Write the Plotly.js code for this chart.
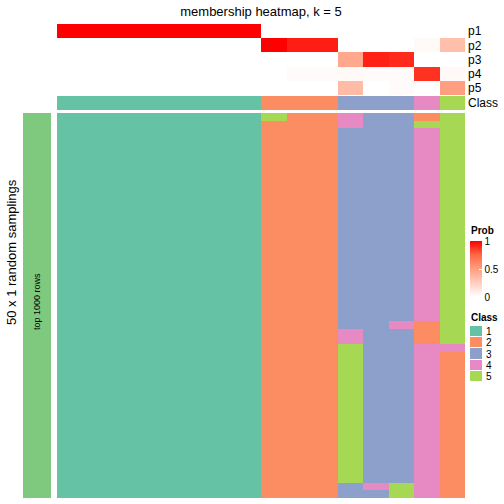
<!DOCTYPE html>
<html>
<head>
<meta charset="utf-8">
<script src="https://cdn.plot.ly/plotly-3.0.1.min.js"></script>
<style>html,body{margin:0;padding:0;background:#fff;}#chart{width:504px;height:504px;}</style>
</head>
<body>
<div id="chart"></div>
<script>
// ---- data ----
const columns = ['s1','s2','s3','s4','s5','s6','s7','s8','s9','s10','s11','s12','s13','s14','s15','s16'];
const probRows = ['p1','p2','p3','p4','p5'];
const p1 = [1,1,1,1,1,1,1,1, 0,0,0, 0,0,0, 0,0];
const p2 = [0,0,0,0,0,0,0,0, 1,0.93,0.93, 0,0,0, 0.03,0.33];
const p3 = [0,0,0,0,0,0,0,0, 0,0,0, 0.45,0.92,0.9, 0,0];
const p4 = [0,0,0,0,0,0,0,0, 0,0.02,0.02, 0.03,0.02,0.02, 0.88,0.03];
const p5 = [0,0,0,0,0,0,0,0, 0,0,0, 0.35,0,0.02, 0,0.5];
const classTop = [1,1,1,1,1,1,1,1, 2,2,2, 3,3,3, 4,5];
const classLabels = ['1','2','3','4','5'];
const classColors = ['#66C2A5','#FC8D62','#8DA0CB','#E78AC3','#A6D854'];
// class of each of the 50 random samplings (top to bottom) for every column
const samplingCols = [
  '1111111111 1111111111 1111111111 1111111111 1111111111',
  '1111111111 1111111111 1111111111 1111111111 1111111111',
  '1111111111 1111111111 1111111111 1111111111 1111111111',
  '1111111111 1111111111 1111111111 1111111111 1111111111',
  '1111111111 1111111111 1111111111 1111111111 1111111111',
  '1111111111 1111111111 1111111111 1111111111 1111111111',
  '1111111111 1111111111 1111111111 1111111111 1111111111',
  '1111111111 1111111111 1111111111 1111111111 1111111111',
  '5222222222 2222222222 2222222222 2222222222 2222222222',
  '2222222222 2222222222 2222222222 2222222222 2222222222',
  '2222222222 2222222222 2222222222 2222222222 2222222222',
  '4433333333 3333333333 3333333344 5555555555 5555555533',
  '3333333333 3333333333 3333333333 3333333333 3333333343',
  '3333333333 3333333333 3333333433 3333333333 3333333355',
  '2544444444 4444444444 4444444222 4444444444 4444444444',
  '5555555555 5555555555 5555555555 4222222222 2222222222'
];
// ---- build ----
const colsParsed = samplingCols.map(s => s.replace(/ /g,'').split('').map(Number));
const nRows = colsParsed[0].length;
const mainZ = [];
for (let r = 0; r < nRows; r++) mainZ.push(colsParsed.map(c => c[r]));
const xIdx = columns.map((_, i) => i);

const discreteScale = [];
classColors.forEach((c, i) => { discreteScale.push([i/5, c]); discreteScale.push([(i+1)/5, c]); });
const redScale = [[0,'#FFFFFF'],[0.25,'#FFCFBF'],[0.5,'#FF9E81'],[0.75,'#FF6846'],[1,'#FF0000']];

const P = v => v/504;          // x pixel -> paper
const Q = v => 1 - v/504;      // y pixel -> paper

const traces = [
  { type:'heatmap', z:[p1,p2,p3,p4,p5], x:xIdx, y:[0,1,2,3,4], xaxis:'x', yaxis:'y',
    colorscale:redScale, zmin:0, zmax:1, hoverinfo:'skip',
    colorbar:{ x:P(470), xanchor:'left', y:Q(241), yanchor:'top', len:56, lenmode:'pixels',
      thickness:12, thicknessmode:'pixels', outlinewidth:0, xpad:0, ypad:0,
      tickvals:[0,0.5,1], ticktext:['0','0.5','1'], ticks:'inside', ticklen:3, tickcolor:'#FFFFFF',
      tickfont:{size:10, color:'#000'} } },
  { type:'heatmap', z:[classTop], x:xIdx, y:[0], xaxis:'x', yaxis:'y2',
    colorscale:discreteScale, zmin:0.5, zmax:5.5, showscale:false, hoverinfo:'skip' },
  { type:'heatmap', z:mainZ, x:xIdx, xaxis:'x', yaxis:'y3',
    colorscale:discreteScale, zmin:0.5, zmax:5.5, showscale:false, hoverinfo:'skip' },
  { type:'heatmap', z:[[1]], x:[0], y:[0], xaxis:'x2', yaxis:'y5',
    colorscale:[[0,'#7FC97F'],[1,'#7FC97F']], showscale:false, hoverinfo:'skip' },
  { type:'heatmap', z:[[1],[2],[3],[4],[5]], x:[0], y:[0,1,2,3,4], xaxis:'x3', yaxis:'y4',
    colorscale:discreteScale, zmin:0.5, zmax:5.5, showscale:false, ygap:1, hoverinfo:'skip' }
];

const hid = { visible:false, showgrid:false, zeroline:false, fixedrange:true };
const layout = {
  width:504, height:504, margin:{l:0,r:0,t:0,b:0},
  paper_bgcolor:'#FFFFFF', plot_bgcolor:'#FFFFFF', showlegend:false,
  font:{family:'Liberation Sans, Arial, sans-serif', size:12, color:'#000'},
  title:{ text:'membership heatmap, k = 5', x:P(261), xanchor:'center', y:Q(11), yanchor:'middle',
    font:{size:13, color:'#000'} },
  xaxis:Object.assign({}, hid, { domain:[P(57), P(465)], range:[-0.5, 15.5], anchor:'y3' }),
  yaxis:{ domain:[Q(95), Q(24)], anchor:'x', side:'right', range:[4.5,-0.5], showgrid:false, zeroline:false,
    showline:false, ticks:'', tickvals:[0,1,2,3,4], ticktext:probRows, tickfont:{size:12}, fixedrange:true,
    ticklabelstandoff:2 },
  yaxis2:{ domain:[Q(110), Q(96)], anchor:'x', side:'right', range:[0.5,-0.5], showgrid:false, zeroline:false,
    showline:false, ticks:'', tickvals:[0], ticktext:['Class'], tickfont:{size:12}, fixedrange:true,
    ticklabelstandoff:2 },
  yaxis3:Object.assign({}, hid, { domain:[Q(498), Q(113)], anchor:'x', range:[nRows-0.5, -0.5] }),
  xaxis2:Object.assign({}, hid, { domain:[P(23), P(51)], range:[-0.5,0.5], anchor:'y5' }),
  yaxis5:Object.assign({}, hid, { domain:[Q(498), Q(113)], anchor:'x2', range:[-0.5,0.5] }),
  xaxis3:Object.assign({}, hid, { domain:[P(470), P(482)], range:[-0.5,0.5], anchor:'y4' }),
  yaxis4:{ domain:[Q(382), Q(326)], anchor:'x3', side:'right', range:[4.5,-0.5], showgrid:false, zeroline:false,
    showline:false, ticks:'', tickvals:[0,1,2,3,4], ticktext:classLabels, tickfont:{size:10}, fixedrange:true,
    ticklabelstandoff:3 },
  annotations:[
    { text:'<b>Prob</b>', xref:'paper', yref:'paper', x:P(469), y:Q(231), xanchor:'left', yanchor:'middle',
      showarrow:false, font:{size:10} },
    { text:'<b>Class</b>', xref:'paper', yref:'paper', x:P(469), y:Q(317), xanchor:'left', yanchor:'middle',
      showarrow:false, font:{size:10} },
    { text:'50 x 1 random samplings', xref:'paper', yref:'paper', x:P(11), y:Q(252), xanchor:'center', yanchor:'middle',
      textangle:-90, showarrow:false, font:{size:13} },
    { text:'top 1000 rows', xref:'paper', yref:'paper', x:P(37), y:Q(302), xanchor:'center', yanchor:'middle',
      textangle:-90, showarrow:false, font:{size:9} }
  ]
};
Plotly.newPlot('chart', traces, layout, {displayModeBar:false, staticPlot:true});
</script>
</body>
</html>
